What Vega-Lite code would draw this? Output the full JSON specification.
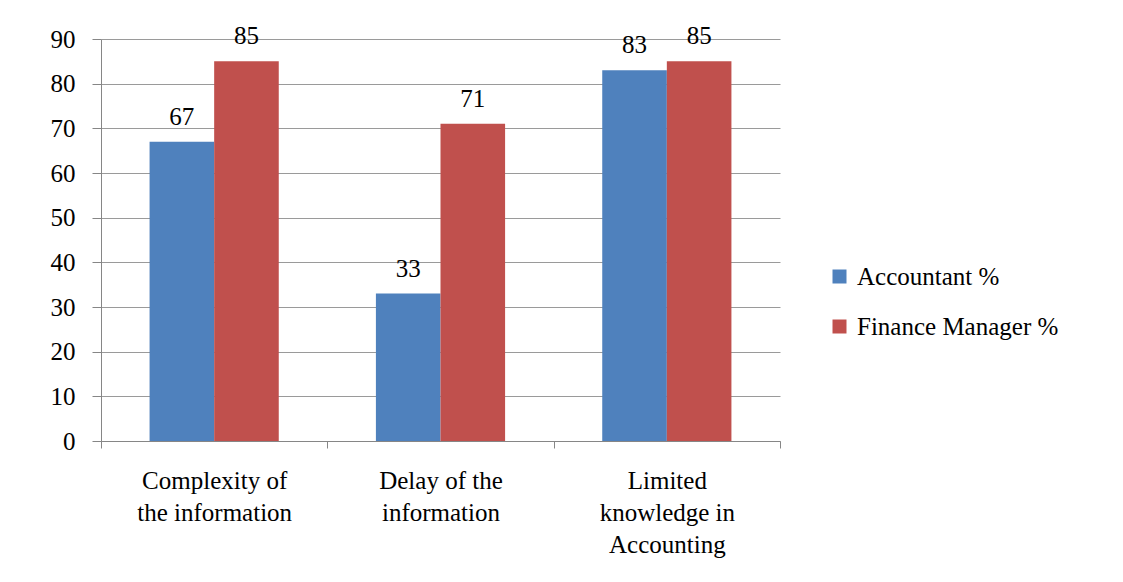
{
  "$schema": "https://vega.github.io/schema/vega-lite/v6.json",
  "width": 679,
  "height": 402,
  "autosize": {"type": "none"},
  "padding": {"left": 101, "top": 39, "right": 343, "bottom": 141},
  "background": "white",
  "config": {
    "font": "Liberation Serif",
    "view": {"stroke": null}
  },
  "data": {
    "values": [
      {"category": "Complexity of|the information", "series": "Accountant %", "value": 67},
      {"category": "Complexity of|the information", "series": "Finance Manager %", "value": 85},
      {"category": "Delay of the|information", "series": "Accountant %", "value": 33},
      {"category": "Delay of the|information", "series": "Finance Manager %", "value": 71},
      {"category": "Limited|knowledge in|Accounting", "series": "Accountant %", "value": 83},
      {"category": "Limited|knowledge in|Accounting", "series": "Finance Manager %", "value": 85}
    ]
  },
  "encoding": {
    "x": {
      "field": "category",
      "type": "nominal",
      "sort": null,
      "scale": {"paddingInner": 0, "paddingOuter": 0},
      "axis": {
        "title": null,
        "labelAngle": 0,
        "labelExpr": "split(datum.label, '|')",
        "labelFont": "Liberation Serif",
        "labelFontSize": 25,
        "labelColor": "black",
        "labelLineHeight": 32,
        "labelPadding": 20,
        "labelBaseline": "top",
        "labelLimit": 300,
        "ticks": true,
        "tickBand": "extent",
        "tickSize": 7,
        "tickColor": "#868686",
        "domainColor": "#868686",
        "domainWidth": 1,
        "grid": false
      }
    },
    "xOffset": {
      "field": "series",
      "type": "nominal",
      "scale": {"paddingOuter": 0.752, "paddingInner": 0}
    },
    "y": {
      "field": "value",
      "type": "quantitative",
      "scale": {"domain": [0, 90]},
      "axis": {
        "title": null,
        "values": [0, 10, 20, 30, 40, 50, 60, 70, 80, 90],
        "labelFont": "Liberation Serif",
        "labelFontSize": 25,
        "labelColor": "black",
        "labelPadding": 17,
        "tickSize": 9,
        "tickColor": "#868686",
        "domainColor": "#868686",
        "gridColor": "#9a9a9a",
        "gridWidth": 1,
        "grid": true
      }
    }
  },
  "layer": [
    {
      "mark": {"type": "bar"},
      "encoding": {
        "color": {
          "field": "series",
          "type": "nominal",
          "scale": {"domain": ["Accountant %", "Finance Manager %"], "range": ["#4F81BD", "#C0504D"]},
          "legend": {
            "title": null,
            "orient": "none",
            "legendX": 726,
            "legendY": 225,
            "symbolType": "square",
            "symbolSize": 196,
            "symbolStrokeWidth": 0,
            "labelFont": "Liberation Serif",
            "labelFontSize": 25,
            "labelColor": "black",
            "labelOffset": 5,
            "labelLimit": 400,
            "rowPadding": 24
          }
        }
      }
    },
    {
      "mark": {"type": "text", "baseline": "alphabetic", "dy": -17, "fontSize": 25, "font": "Liberation Serif", "color": "black"},
      "encoding": {
        "text": {"field": "value", "type": "quantitative"}
      }
    }
  ]
}
